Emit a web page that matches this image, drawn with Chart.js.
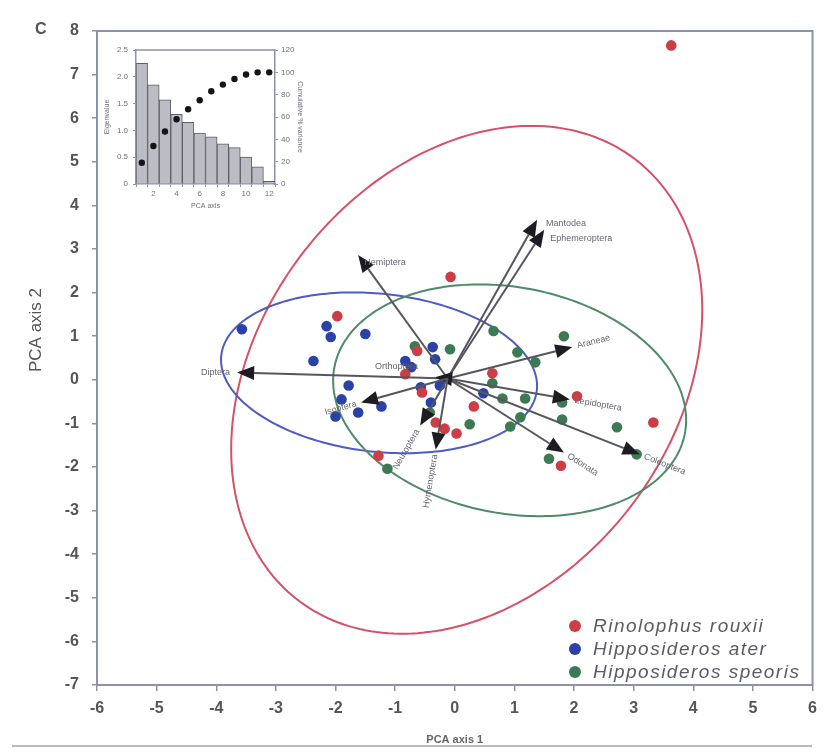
<!DOCTYPE html>
<html>
<head>
<meta charset="utf-8">
<script src="https://cdn.jsdelivr.net/npm/chart.js@4/dist/chart.umd.min.js"></script>
<style>
  html, body { margin: 0; padding: 0; background: #fff; }
  #wrap { position: relative; width: 825px; height: 753px; overflow: hidden; background: #fff; }
  #rule { position: absolute; left: 12px; top: 745px; width: 800px; height: 0; border-top: 2px solid #b8b8c2; }
  #main { position: absolute; left: 0; top: 0; }
  #inset { position: absolute; left: 95px; top: 28px; }
  #panel { position: absolute; left: 35px; top: 20px; font: bold 16px "Liberation Sans", Arial, sans-serif; color: #555; }
</style>
</head>
<body>
<div id="wrap">
  <div id="rule"></div>
  <canvas id="main" width="825" height="753"></canvas>
  <canvas id="inset" width="220" height="190"></canvas>
  <div id="panel">C</div>
</div>
<script>
// ---- PCA scores (axis 1, axis 2) per species ----
const speciesNames = ['Rinolophus rouxii', 'Hipposideros ater', 'Hipposideros speoris'];

const rouxiiScores = [
  [3.63, 7.67], [-0.07, 2.36], [-1.97, 1.46], [-0.83, 0.13], [-0.63, 0.66],
  [-0.55, -0.29], [0.63, 0.15], [0.32, -0.61], [-0.32, -0.98], [-0.17, -1.12],
  [0.03, -1.23], [2.05, -0.38], [3.33, -0.98], [1.78, -1.97], [-1.28, -1.74]
];

const aterScores = [
  [-3.57, 1.16], [-2.15, 1.23], [-2.08, 0.98], [-1.50, 1.05], [-2.37, 0.43],
  [-0.37, 0.75], [-0.33, 0.47], [-0.83, 0.43], [-0.73, 0.29], [-1.78, -0.13],
  [-1.90, -0.45], [-2.00, -0.84], [-1.62, -0.75], [-1.23, -0.61], [-0.57, -0.17],
  [-0.25, -0.13], [-0.40, -0.52], [0.48, -0.31]
];

const speorisScores = [
  [-0.67, 0.77], [-0.08, 0.70], [0.65, 1.12], [1.05, 0.63], [1.83, 1.00],
  [1.35, 0.40], [0.63, -0.08], [0.80, -0.43], [1.18, -0.43], [1.80, -0.52],
  [1.80, -0.91], [1.10, -0.86], [0.93, -1.07], [0.25, -1.02], [-0.42, -0.75],
  [2.72, -1.09], [3.05, -1.71], [1.58, -1.81], [-1.13, -2.04]
];

// ---- prey-order loadings (biplot vectors) ----
const loadingOrigin = [-0.12, 0.03];
const preyOrders = ['Diptera', 'Hemiptera', 'Mantodea', 'Ephemeroptera', 'Araneae', 'Lepidoptera',
                    'Coleoptera', 'Odonata', 'Orthoptera', 'Isoptera', 'Neuroptera', 'Hymenoptera'];
const loadingTips = [
  [-3.65, 0.17], [-1.62, 2.86], [1.38, 3.67], [1.50, 3.44], [1.97, 0.75], [1.93, -0.45],
  [3.10, -1.71], [1.83, -1.67], [-0.33, 0.06], [-1.57, -0.52], [-0.58, -1.05], [-0.32, -1.60]
];

// ---- 95% ellipses: centre, and [ax, ay, by] so that
// x = cx + ax*cos t,  y = cy + ay*cos t + by*sin t ----
const ellipseCenters = [[0.20, 0.00], [-1.27, 0.16], [0.92, -0.47]];
const ellipseAxes = [[3.95, 1.60, 5.60], [2.65, -0.30, 1.82], [2.96, -0.45, 2.62]];

// ---- scree plot ----
const pcaAxes = ['1', '2', '3', '4', '5', '6', '7', '8', '9', '10', '11', '12'];
const eigenvalues = [2.25, 1.85, 1.57, 1.30, 1.15, 0.95, 0.88, 0.75, 0.68, 0.50, 0.32, 0.05];
const cumulativeVariance = [19, 34, 47, 58, 67, 75, 83, 89, 94, 98, 100, 100];

// ---- styling ----
const FONT = '"Liberation Sans", Arial, Helvetica, sans-serif';
const AXIS = '#8d91aa';
const TEXT = '#555558';
const speciesColors = ['#cc3d46', '#2a41a8', '#3b7a52'];
const ellipseColors = ['#d6506a', '#4d5bc6', '#4f8a69'];
// label placement for each loading: 'flat' labels use pixel offsets, others follow the vector
const loadingLabelStyle = {
  Diptera:       { mode: 'flat', align: 'right', dx: -7, dy: 0 },
  Hemiptera:     { mode: 'flat', align: 'left', dx: 6, dy: 7 },
  Mantodea:      { mode: 'flat', align: 'left', dx: 9, dy: 4 },
  Ephemeroptera: { mode: 'flat', align: 'left', dx: 6, dy: 9 },
  Orthoptera:    { mode: 'flat', align: 'right', dx: -17, dy: -11 }
};

const toXY = arr => arr.map(p => ({ x: p[0], y: p[1] }));

function px(chart, x, y) {
  return [chart.scales.x.getPixelForValue(x), chart.scales.y.getPixelForValue(y)];
}

const ellipsePlugin = {
  id: 'ellipses',
  beforeDatasetsDraw(chart) {
    const ctx = chart.ctx;
    ctx.save();
    ellipseCenters.forEach((c, i) => {
      const [ax, ay, by] = ellipseAxes[i];
      ctx.beginPath();
      for (let k = 0; k <= 240; k++) {
        const t = k / 240 * Math.PI * 2;
        const p = px(chart, c[0] + ax * Math.cos(t), c[1] + ay * Math.cos(t) + by * Math.sin(t));
        if (k === 0) ctx.moveTo(p[0], p[1]); else ctx.lineTo(p[0], p[1]);
      }
      ctx.closePath();
      ctx.strokeStyle = ellipseColors[i];
      ctx.lineWidth = 2;
      ctx.stroke();
    });
    ctx.restore();
  }
};

const loadingPlugin = {
  id: 'loadings',
  afterDatasetsDraw(chart) {
    const ctx = chart.ctx;
    const o = px(chart, loadingOrigin[0], loadingOrigin[1]);
    ctx.save();
    preyOrders.forEach((name, i) => {
      const t = px(chart, loadingTips[i][0], loadingTips[i][1]);
      const ang = Math.atan2(t[1] - o[1], t[0] - o[0]);
      const headLen = 17, headHalf = 7;
      const bx = t[0] - headLen * Math.cos(ang), by = t[1] - headLen * Math.sin(ang);
      ctx.beginPath();
      ctx.moveTo(o[0], o[1]);
      ctx.lineTo(bx, by);
      ctx.strokeStyle = '#56565f';
      ctx.lineWidth = 2;
      ctx.stroke();
      ctx.beginPath();
      ctx.moveTo(t[0], t[1]);
      ctx.lineTo(bx + headHalf * Math.sin(ang), by - headHalf * Math.cos(ang));
      ctx.lineTo(bx - headHalf * Math.sin(ang), by + headHalf * Math.cos(ang));
      ctx.closePath();
      ctx.fillStyle = '#1c1c22';
      ctx.fill();

      ctx.font = '9px ' + FONT;
      ctx.fillStyle = '#66666e';
      ctx.textBaseline = 'middle';
      const st = loadingLabelStyle[name];
      if (st) {
        ctx.textAlign = st.align;
        ctx.fillText(name, t[0] + st.dx, t[1] + st.dy);
      } else {
        const gap = 5;
        const lx = t[0] + gap * Math.cos(ang), ly = t[1] + gap * Math.sin(ang);
        ctx.save();
        ctx.translate(lx, ly);
        if (Math.cos(ang) >= 0) {
          ctx.rotate(ang);
          ctx.textAlign = 'left';
        } else {
          ctx.rotate(ang + Math.PI);
          ctx.textAlign = 'right';
        }
        ctx.fillText(name, 0, 0);
        ctx.restore();
      }
    });
    ctx.restore();
  }
};

const framePlugin = {
  id: 'frame',
  afterDraw(chart) {
    const { ctx, chartArea: a } = chart;
    ctx.save();
    ctx.strokeStyle = AXIS;
    ctx.lineWidth = 2;
    ctx.beginPath();
    ctx.moveTo(a.left, a.top);
    ctx.lineTo(a.right, a.top);
    ctx.lineTo(a.right, a.bottom);
    ctx.stroke();
    // vertical axis title
    ctx.translate(36, 330);
    ctx.rotate(-Math.PI / 2);
    ctx.font = '17px ' + FONT;
    ctx.fillStyle = TEXT;
    ctx.textAlign = 'center';
    ctx.textBaseline = 'middle';
    ctx.fillText('PCA axis 2', 0, 0);
    ctx.restore();
  }
};

const legendPlugin = {
  id: 'speciesLegend',
  afterDraw(chart) {
    const ctx = chart.ctx;
    ctx.save();
    chart.data.datasets.forEach((ds, i) => {
      const y = 626 + i * 23;
      ctx.beginPath();
      ctx.arc(575, y, 6, 0, Math.PI * 2);
      ctx.fillStyle = ds.backgroundColor;
      ctx.fill();
      ctx.font = 'italic 19px ' + FONT;
      ctx.letterSpacing = '1.5px';
      ctx.fillStyle = '#5c5c66';
      ctx.textAlign = 'left';
      ctx.textBaseline = 'middle';
      ctx.fillText(ds.label, 593, y + 1);
    });
    ctx.restore();
  }
};

const tickFont = { family: FONT, size: 16, weight: 'bold' };

new Chart(document.getElementById('main'), {
  type: 'scatter',
  data: {
    datasets: [
      { label: speciesNames[0], data: toXY(rouxiiScores), backgroundColor: speciesColors[0] },
      { label: speciesNames[1], data: toXY(aterScores), backgroundColor: speciesColors[1] },
      { label: speciesNames[2], data: toXY(speorisScores), backgroundColor: speciesColors[2] }
    ].map(d => Object.assign(d, { pointRadius: 5.3, borderWidth: 0, pointBorderWidth: 0 }))
  },
  options: {
    responsive: false,
    animation: false,
    layout: { padding: { left: 0, top: 31, right: 8, bottom: 0 } },
    plugins: { legend: { display: false }, tooltip: { enabled: false } },
    scales: {
      x: {
        type: 'linear', min: -6, max: 6,
        ticks: { stepSize: 1, font: tickFont, color: TEXT, padding: 8 },
        grid: { drawOnChartArea: false, tickLength: 6, color: AXIS, lineWidth: 1.5 },
        border: { color: AXIS, width: 2 },
        title: { display: true, text: 'PCA axis 1', color: '#666', font: { family: FONT, size: 11, weight: 'bold' }, padding: { top: 0, bottom: 6 } },
        afterFit(s) { s.height = 68; }
      },
      y: {
        type: 'linear', min: -7, max: 8,
        ticks: { stepSize: 1, font: tickFont, color: TEXT, padding: 13 },
        grid: { drawOnChartArea: false, tickLength: 5, color: AXIS, lineWidth: 1.5 },
        border: { color: AXIS, width: 2 },
        afterFit(s) { s.width = 97; }
      }
    }
  },
  plugins: [ellipsePlugin, loadingPlugin, framePlugin, legendPlugin]
});

// ---- scree plot inset ----
const smallFont = { family: FONT, size: 8 };
const insetFrame = {
  id: 'insetFrame',
  afterDraw(chart) {
    const { ctx, chartArea: a } = chart;
    ctx.save();
    ctx.strokeStyle = AXIS;
    ctx.lineWidth = 1.5;
    ctx.beginPath();
    ctx.moveTo(a.left, a.top);
    ctx.lineTo(a.right, a.top);
    ctx.stroke();
    ctx.restore();
  }
};

new Chart(document.getElementById('inset'), {
  type: 'bar',
  data: {
    labels: pcaAxes,
    datasets: [
      { type: 'line', data: cumulativeVariance, yAxisID: 'yR', showLine: false, pointRadius: 3.2,
        pointBackgroundColor: '#151518', pointBorderWidth: 0, order: 0 },
      { type: 'bar', data: eigenvalues, yAxisID: 'yL', backgroundColor: '#bcbcc4', borderColor: '#5e5e68',
        borderWidth: 1, barPercentage: 1, categoryPercentage: 1, order: 1 }
    ]
  },
  options: {
    responsive: false,
    animation: false,
    layout: { padding: { left: 0, top: 22, right: 0, bottom: 0 } },
    plugins: { legend: { display: false }, tooltip: { enabled: false } },
    scales: {
      x: {
        ticks: { autoSkip: false, maxRotation: 0, font: smallFont, color: '#707078', padding: 2,
                 callback(v, i) { return i % 2 === 1 ? pcaAxes[i] : ''; } },
        grid: { drawOnChartArea: false, tickLength: 3, color: AXIS },
        border: { color: AXIS, width: 1.5 },
        title: { display: true, text: 'PCA axis', color: '#707078', font: { family: FONT, size: 7 }, padding: { top: 0, bottom: 8 } },
        afterFit(s) { s.height = 34; }
      },
      yL: {
        position: 'left', min: 0, max: 2.5,
        ticks: { stepSize: 0.5, font: smallFont, color: '#707078', padding: 5 },
        grid: { drawOnChartArea: false, tickLength: 3, color: AXIS },
        border: { color: AXIS, width: 1.5 },
        title: { display: true, text: 'Eigenvalue', color: '#707078', font: { family: FONT, size: 7 }, padding: { top: 8, bottom: 0 } },
        afterFit(s) { s.width = 41; }
      },
      yR: {
        position: 'right', min: 0, max: 120,
        ticks: { stepSize: 20, font: smallFont, color: '#707078', padding: 3 },
        grid: { drawOnChartArea: false, tickLength: 3, color: AXIS },
        border: { color: AXIS, width: 1.5 },
        title: { display: true, text: 'Cumulative % variance', color: '#707078', font: { family: FONT, size: 7 }, padding: { top: 11, bottom: 0 } },
        afterFit(s) { s.width = 40; }
      }
    }
  },
  plugins: [insetFrame]
});
</script>
</body>
</html>
